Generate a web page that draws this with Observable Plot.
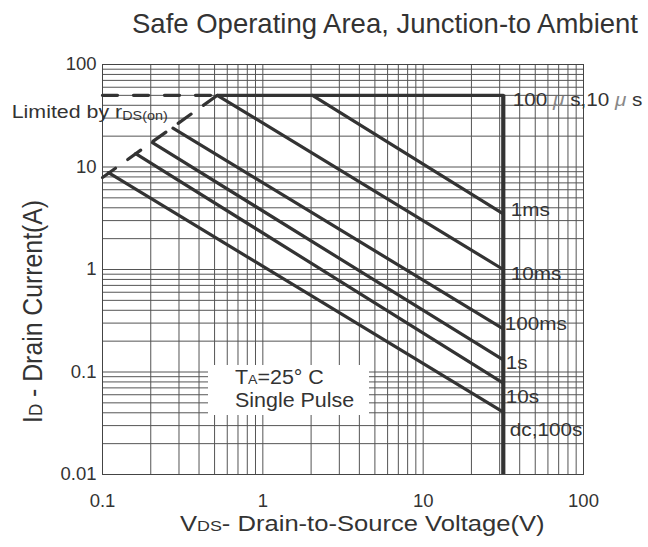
<!DOCTYPE html>
<html>
<head>
<meta charset="utf-8">
<script src="https://cdn.jsdelivr.net/npm/d3@7"></script>
<script src="https://cdn.jsdelivr.net/npm/@observablehq/plot@0.6"></script>
<style>
  html, body { margin: 0; padding: 0; background: #fff; }
  #chart svg { display: block; }
</style>
</head>
<body>
<div id="chart"></div>
<script>
// ---------------- data ----------------
const pulseLabels = ["1ms", "10ms", "100ms", "1s", "10s", "dc,100s"];
const vStart = [2.04, 0.52, 0.275, 0.205, 0.161, 0.109];   // V where each pulse line starts
const iStart = [50, 50, 23.9, 17.3, 13.5, 8.8];             // A at that start
const iEnd   = [3.49, 1.0, 0.264, 0.131, 0.078, 0.0406];    // A at the voltage limit
const vLimit = 31.6;                                        // V, max drain-source voltage line
const iLimit = 50;                                          // A, max current line
const rdsV = [0.1, 0.52];                                   // rDS(on) limit line, V
const rdsI = [7.9, 50];                                     // rDS(on) limit line, A
const xTicks = [0.1, 1, 10, 100];
const yTicks = [0.01, 0.1, 1, 10, 100];
const topLabel = ["100 ", "μ", " s,10 ", "μ", " s"];

// ---------------- layout / style (not data) ----------------
const W = 648, H = 547;
const FONT = "'Liberation Sans', Arial, Helvetica, sans-serif";
const INK = "#333";
const labelNudge = [  // [dx, baseline dy] for the right-hand labels
  [8, 3], [8, 11], [2, 2], [3, 10], [3, 20], [7, 24]
];

// ---------------- derived tables ----------------
const pulseData = pulseLabels.flatMap((k, j) => [
  {k, v: vStart[j], i: iStart[j]},
  {k, v: vLimit, i: iEnd[j]}
]);
const topSolid = [{v: rdsV[1], i: iLimit}, {v: vLimit, i: iLimit}];
const topDashed = [{v: xTicks[0], i: iLimit}, {v: rdsV[1], i: iLimit}];
const rdsData = rdsV.map((v, j) => ({v, i: rdsI[j]}));
const xGrid = d3.scaleLog().domain([xTicks[0], xTicks[xTicks.length - 1]]).ticks();
const yGrid = d3.scaleLog().domain([yTicks[0], yTicks[yTicks.length - 1]]).ticks();
const fmt = d3.format("~g");

const chart = Plot.plot({
  width: W,
  height: H,
  marginLeft: 102,
  marginRight: 65,
  marginTop: 64,
  marginBottom: 73,
  style: {fontFamily: FONT, fontSize: "18.5px", color: INK, background: "#fff"},
  x: {type: "log", domain: [0.1, 100], ticks: xTicks, tickFormat: fmt, tickSize: 0, tickPadding: 19, label: null},
  y: {type: "log", domain: [0.01, 100], ticks: yTicks, tickFormat: fmt, tickSize: 0, tickPadding: 6, label: null},
  marks: [
    Plot.ruleX(xGrid, {stroke: "#555", strokeWidth: 1}),
    Plot.ruleY(yGrid, {stroke: "#555", strokeWidth: 1}),
    Plot.frame({stroke: "#444", strokeWidth: 1}),
    Plot.line(rdsData, {x: "v", y: "i", stroke: INK, strokeWidth: 3.2, strokeDasharray: "16,15"}),
    Plot.line(topDashed, {x: "v", y: "i", stroke: INK, strokeWidth: 3.3, strokeDasharray: "15,16"}),
    Plot.line(topSolid, {x: "v", y: "i", stroke: INK, strokeWidth: 3.3}),
    Plot.ruleX([vLimit], {y1: iLimit, y2: 0.01, stroke: INK, strokeWidth: 4.2}),
    Plot.line(pulseData, {x: "v", y: "i", z: "k", stroke: INK, strokeWidth: 3.2})
  ]
});

const svg = d3.select(chart);
const sx = chart.scale("x"), sy = chart.scale("y");

function addText(x, y, parts, o) {
  const t = svg.append("text")
    .attr("transform", `translate(${x},${y}) scale(${o.sx || 1},1)` + (o.rotate ? ` rotate(${o.rotate})` : ""))
    .attr("text-anchor", o.anchor || "start")
    .attr("font-family", FONT)
    .attr("font-size", o.size)
    .attr("fill", o.fill || INK);
  parts.forEach(p => {
    const q = typeof p === "string" ? {t: p} : p;
    const s = t.append("tspan").text(q.t);
    if (q.size) s.attr("font-size", q.size);
    if (q.italic) s.attr("font-style", "italic");
    if (q.fill) s.attr("fill", q.fill);
    if (q.dy) s.attr("dy", q.dy);
  });
  return t;
}

// note box hiding the grid
svg.append("rect").attr("x", 208).attr("y", 365).attr("width", 161).attr("height", 50).attr("fill", "#fff");
addText(235, 384, ["T", {t: "A", size: 12.8}, "=25° C"], {size: 19.5, sx: 1.1});
addText(235, 407.3, ["Single Pulse"], {size: 19.5, sx: 1.1});

// right-hand labels
const xr = sx.apply(vLimit);
addText(xr + 10, sy.apply(iLimit) + 11,
  topLabel.map((t, j) => j % 2 ? {t, italic: true, fill: "#888"} : t), {size: 17.7, sx: 1.17});
pulseLabels.forEach((k, j) => {
  addText(xr + labelNudge[j][0], sy.apply(iEnd[j]) + labelNudge[j][1], [k], {size: 17.7, sx: 1.17});
});

// rDS(on) note
addText(11.7, 118.3, ["Limited by r", {t: "DS(on)", size: 12.5, dy: 1.5}], {size: 18.6, sx: 1.15});

// axis titles
addText(180, 530.7, ["V", {t: "DS", size: 15}, {t: "- Drain-to-Source Voltage(V)", size: 21.5}], {size: 21.5, sx: 1.19});
addText(41.6, 423, ["I", {t: "D", size: 17}, {t: " - Drain Current(A)", size: 24.8}], {size: 24.8, sx: 1.12, rotate: -90});

// chart title
addText(638, 33.3, ["Safe Operating Area, Junction-to Ambient"], {size: 27.5, anchor: "end"});

document.getElementById("chart").appendChild(chart);
</script>
</body>
</html>
